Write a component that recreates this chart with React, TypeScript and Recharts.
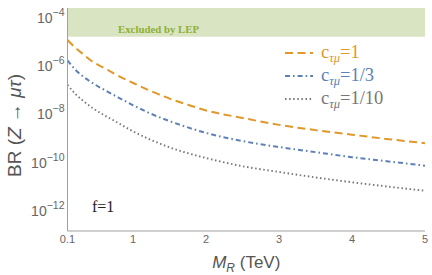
import React from "react";
import { ComposedChart, Line, XAxis, YAxis, ReferenceArea, Legend, Label } from "recharts";

// M_R in TeV
const massTeV = [0.1, 0.2, 0.3, 0.45, 0.6, 0.75, 1, 1.25, 1.5, 1.75, 2, 2.5, 3, 3.5, 4, 4.5, 5];

// BR(Z -> mu tau)
const brC1 = [8.9e-6, 4.5e-6, 2.5e-6, 1.1e-6, 6.3e-7, 3.5e-7, 1.5e-7, 6.8e-8, 3.4e-8, 1.9e-8, 1.1e-8, 5.4e-9, 2.8e-9, 1.7e-9, 1.1e-9, 7.2e-10, 4.9e-10];
const brC1over3 = [1.3e-6, 5.6e-7, 3.0e-7, 1.45e-7, 7.9e-8, 4.5e-8, 1.8e-8, 7.9e-9, 4.0e-9, 2.2e-9, 1.3e-9, 6.0e-10, 3.4e-10, 2.1e-10, 1.3e-10, 8.7e-11, 5.8e-11];
const brC1over10 = [1.26e-7, 5.6e-8, 3.0e-8, 1.35e-8, 7.1e-9, 4.0e-9, 1.5e-9, 6.6e-10, 3.3e-10, 1.9e-10, 1.2e-10, 5.5e-11, 3.2e-11, 1.9e-11, 1.2e-11, 7.9e-12, 5.4e-12];

const lepLimit = 1.2e-5;
const xDomain = [0.1, 5];
const yDomain = [1.17e-13, 1.86e-4];

const xMajorTicks = [0.1, 1, 2, 3, 4, 5];
const yLabelTicks = [1e-4, 1e-6, 1e-8, 1e-10, 1e-12];

const xMinorTicks: number[] = [];
for (let i = 2; i < 50; i++) if (i % 10 !== 0) xMinorTicks.push(i / 10);

const yMinorTicks: number[] = [];
for (let e = -13; e <= -4; e++) {
  for (let k = 1; k <= 9; k++) {
    const v = k * Math.pow(10, e);
    if (k === 1 && e % 2 === 0) continue;
    if (v >= yDomain[0] && v <= yDomain[1]) yMinorTicks.push(v);
  }
}

const data = massTeV.map((m, i) => ({ m, c1: brC1[i], c3: brC1over3[i], c10: brC1over10[i] }));

const series = [
  { key: "c1", label: "1", color: "#e1972a", dash: "8 4.5", width: 2 },
  { key: "c3", label: "1/3", color: "#5e81b5", dash: "5 3 1.6 3", width: 2 },
  { key: "c10", label: "1/10", color: "#777777", dash: "1.5 2.6", width: 1.9 },
];

const frame = "#a0a0a0";
const tickText = "#666";
const sans = "'Liberation Sans', Arial, sans-serif";
const serif = "'Liberation Serif', 'Times New Roman', serif";

function PowerTick({ x, y, payload }: any) {
  const exp = Math.round(Math.log10(payload.value));
  return (
    <text x={x} y={y} textAnchor="end" fill={tickText} fontFamily={sans}>
      <tspan fontSize={14} dy={8}>10</tspan>
      <tspan fontSize={10.5} dy={-7}>{"\u2212" + Math.abs(exp)}</tspan>
    </text>
  );
}

function YTitle({ viewBox }: any) {
  const cx = viewBox.x + 6.5;
  const cy = viewBox.y + viewBox.height / 2 + 6;
  return (
    <text x={cx} y={cy} transform={`rotate(-90, ${cx}, ${cy})`} textAnchor="middle" dominantBaseline="central"
      fill="#555" fontFamily={sans} fontSize={19}>
      BR (<tspan fontStyle="italic">Z</tspan> → <tspan fontStyle="italic">μτ</tspan>)
    </text>
  );
}

function XTitle({ viewBox }: any) {
  const cx = viewBox.x + viewBox.width / 2;
  return (
    <text x={cx} y={268} textAnchor="middle" fill="#555" fontFamily={sans} fontSize={17}>
      <tspan fontStyle="italic">M</tspan>
      <tspan fontStyle="italic" fontSize={12} dy={4}>R</tspan>
      <tspan dy={-4}> (TeV)</tspan>
    </text>
  );
}

function LepLabel({ viewBox }: any) {
  return (
    <text x={viewBox.x + 50.5} y={viewBox.y + viewBox.height - 3.5} fill="#8fb032" fontFamily={serif}
      fontWeight="bold" fontSize={10.8}>
      Excluded by LEP
    </text>
  );
}

function LegendBox() {
  return (
    <div style={{ fontFamily: serif, lineHeight: 1 }}>
      {series.map((s) => (
        <div key={s.key} style={{ display: "flex", alignItems: "center", height: 23 }}>
          <svg width={28} height={10} style={{ flex: "none" }}>
            <line x1={0} y1={5} x2={28} y2={5} stroke={s.color} strokeWidth={s.width} strokeDasharray={s.dash} />
          </svg>
          <span style={{ color: s.color, fontSize: 18.5, marginLeft: 8, whiteSpace: "nowrap" }}>
            c<span style={{ fontSize: 12.5, fontStyle: "italic", position: "relative", top: 4 }}>τμ</span>={s.label}
          </span>
        </div>
      ))}
    </div>
  );
}

export default function App() {
  return (
    <div style={{ position: "absolute", left: 0, top: 0, width: 432, height: 275, background: "#fff" }}>
      <ComposedChart width={432} height={275} data={data} margin={{ top: 8, right: 7, bottom: 14, left: 7.5 }}>
        <XAxis xAxisId="x" dataKey="m" type="number" domain={xDomain} allowDataOverflow ticks={xMajorTicks}
          interval={0} tickLine={false} tickSize={2} tickMargin={2} height={30}
          axisLine={{ stroke: frame }} tick={{ fill: tickText, fontSize: 11, fontFamily: sans }}
          tickFormatter={(v: number) => String(v)}>
          <Label content={XTitle} />
        </XAxis>
        <XAxis xAxisId="xb" type="number" domain={xDomain} allowDataOverflow ticks={xMajorTicks} interval={0}
          mirror height={0} tickSize={5} tick={false} axisLine={false} tickLine={{ stroke: frame }} />
        <XAxis xAxisId="xbm" type="number" domain={xDomain} allowDataOverflow ticks={xMinorTicks} interval={0}
          mirror height={0} tickSize={2.5} tick={false} axisLine={false} tickLine={{ stroke: frame }} />
        <XAxis xAxisId="xt" orientation="top" type="number" domain={xDomain} allowDataOverflow ticks={xMajorTicks}
          interval={0} mirror height={0} tickSize={5} tick={false} axisLine={{ stroke: frame }}
          tickLine={{ stroke: frame }} />
        <XAxis xAxisId="xtm" orientation="top" type="number" domain={xDomain} allowDataOverflow ticks={xMinorTicks}
          interval={0} mirror height={0} tickSize={2.5} tick={false} axisLine={false} tickLine={{ stroke: frame }} />

        <YAxis yAxisId="y" type="number" scale="log" domain={yDomain} allowDataOverflow ticks={yLabelTicks}
          interval={0} width={60} tickLine={false} tickSize={0} tickMargin={3} axisLine={{ stroke: frame }}
          tick={<PowerTick />}>
          <Label content={YTitle} />
        </YAxis>
        <YAxis yAxisId="yl" type="number" scale="log" domain={yDomain} allowDataOverflow ticks={yLabelTicks}
          interval={0} mirror width={0} tickSize={5} tick={false} axisLine={false} tickLine={{ stroke: frame }} />
        <YAxis yAxisId="ylm" type="number" scale="log" domain={yDomain} allowDataOverflow ticks={yMinorTicks}
          interval={0} mirror width={0} tickSize={2.5} tick={false} axisLine={false} tickLine={{ stroke: frame }} />
        <YAxis yAxisId="yr" orientation="right" type="number" scale="log" domain={yDomain} allowDataOverflow
          ticks={yLabelTicks} interval={0} mirror width={0} tickSize={5} tick={false} axisLine={{ stroke: frame }}
          tickLine={{ stroke: frame }} />
        <YAxis yAxisId="yrm" orientation="right" type="number" scale="log" domain={yDomain} allowDataOverflow
          ticks={yMinorTicks} interval={0} mirror width={0} tickSize={2.5} tick={false} axisLine={false}
          tickLine={{ stroke: frame }} />

        <ReferenceArea xAxisId="x" yAxisId="y" y1={lepLimit} y2={yDomain[1]} fill="#d9e5c2" fillOpacity={1}
          stroke="none" ifOverflow="hidden" label={<LepLabel />} />

        {series.map((s) => (
          <Line key={s.key} xAxisId="x" yAxisId="y" dataKey={s.key} type="monotone" stroke={s.color}
            strokeWidth={s.width} strokeDasharray={s.dash} dot={false} isAnimationActive={false} />
        ))}

        <Legend content={<LegendBox />} layout="vertical" align="center" verticalAlign="middle"
          wrapperStyle={{ position: "absolute", left: 285, top: 41, width: "auto", height: "auto" }} />
      </ComposedChart>
      <div style={{ position: "absolute", left: 92, top: 198, fontFamily: serif, fontSize: 16, color: "#222" }}>
        f=1
      </div>
    </div>
  );
}
